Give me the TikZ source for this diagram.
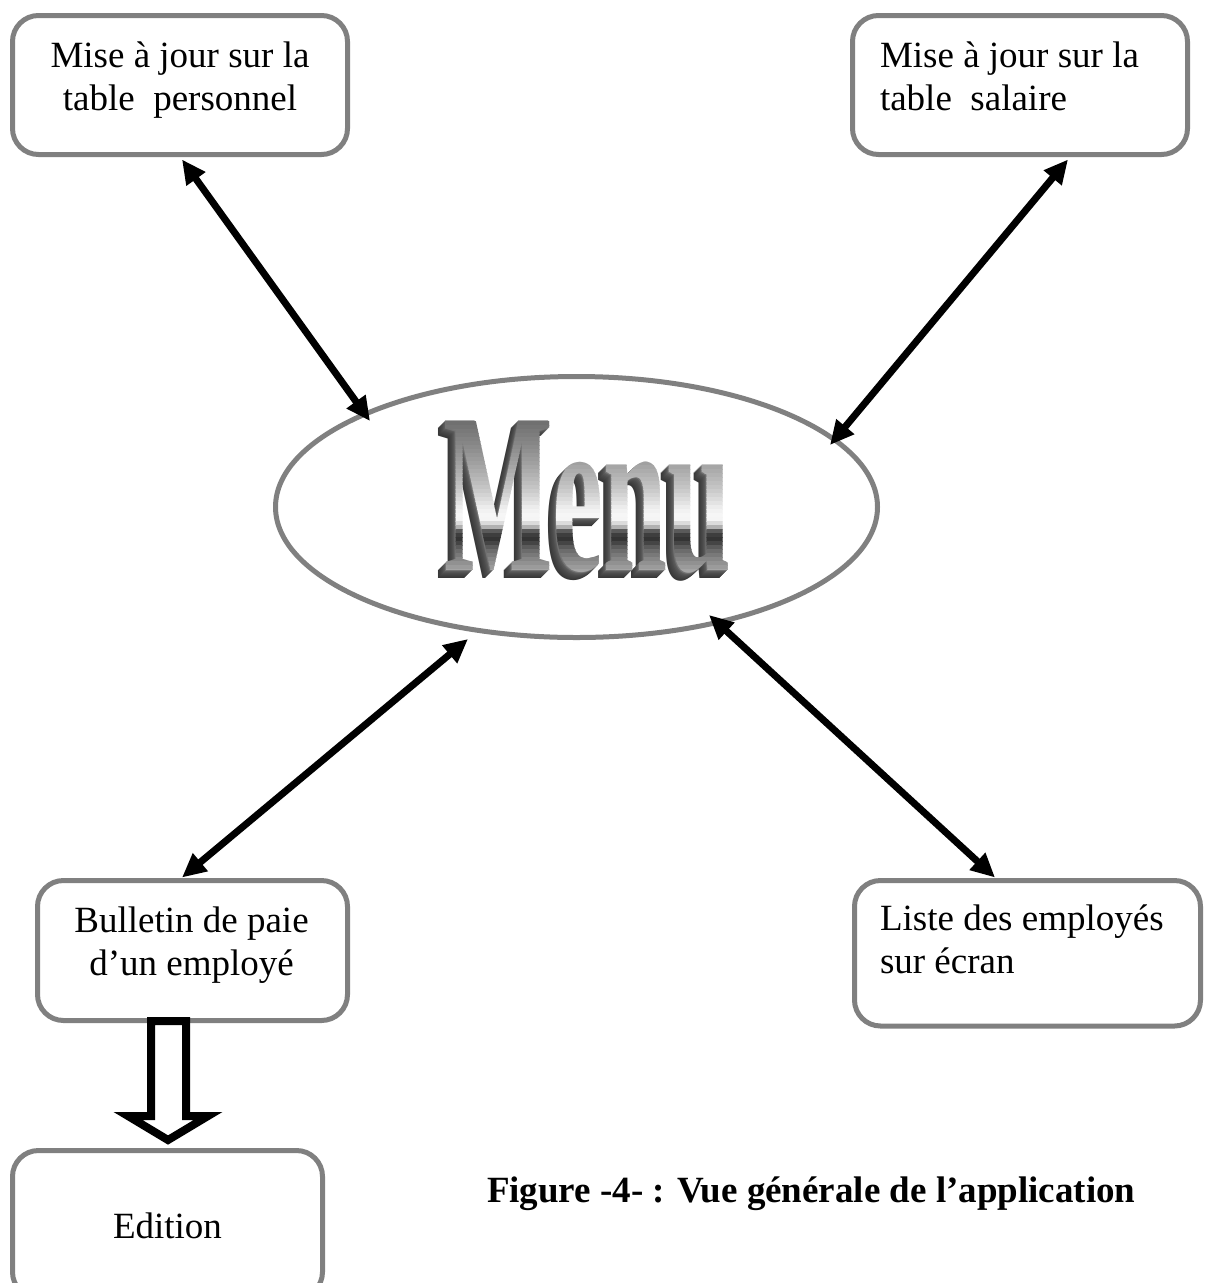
\documentclass[tikz,border=0pt]{standalone}
\usepackage{fontspec}
\setmainfont{Liberation Serif}
\usepackage{graphicx}
\usetikzlibrary{arrows.meta,calc,shapes.geometric}
\definecolor{boxgray}{RGB}{128,128,128}
\tikzset{
  box/.style={draw=boxgray, line width=5pt, rounded corners=26pt, inner sep=0pt, outer sep=0pt},
  lbl/.style={inner sep=0pt, outer sep=0pt, font=\fontsize{37}{43}\selectfont},
  captxt/.style={inner sep=0pt, outer sep=0pt, font=\fontsize{37}{43}\selectfont\bfseries},
  dbl/.style={line width=7pt, {Triangle[length=24pt,width=22pt]}-{Triangle[length=24pt,width=22pt]}},
  blockarrow/.style={draw=black, line width=8pt, fill=white, line join=miter},
  menuface/.style={inner sep=0pt, outer sep=0pt, font=\fontsize{115}{120}\selectfont\bfseries},
}
\begin{document}
\begin{tikzpicture}[x=1pt,y=-1pt]
\useasboundingbox (0,0) rectangle (1205,1283);
\clip (0,0) rectangle (1205,1283);
\fill[white] (0,0) rectangle (1205,1283);

% central ellipse
\node[draw=boxgray, line width=5pt, ellipse, minimum width=602pt, minimum height=261pt, inner sep=0pt, outer sep=0pt] (menu) at (576.5,507) {};

% WordArt "Menu": extrusion
\foreach \k/\gg in {8/22,7/24,6/26,5/28,4/30,3/33,2/36,1/45} {
  \node[menuface, text=white!\gg!black] (menuext\k) at ({588-\k},{497+\k}) {\scalebox{1}[2]{Menu}};
}
% WordArt "Menu": chrome front face (horizontal bands)
\foreach \g [count=\i from 0, evaluate=\g as \p using \g/2.55] in
  {112,116,121,125,130,134,139,144,150,155,160,166,172,178,184,190,196,203,211,219,227,236,242,246,245,219,177,90,62,52,69,91,108,121,134,145,155,165} {
  \begin{scope}
    \clip (400,{421+4*\i}) rectangle (790,{425.6+4*\i});
    \node[menuface, text=white!\p!black] (menuband\i) at (588,497) {\scalebox{1}[2]{Menu}};
  \end{scope}
}

% boxes
\node[box, minimum width=335pt, minimum height=139pt] (tl) at (180,85) {};
\node[box, minimum width=335pt, minimum height=139pt] (tr) at (1020,85) {};
\node[box, minimum width=310pt, minimum height=140pt] (bl) at (192.5,950.5) {};
\node[box, minimum width=346pt, minimum height=145.5pt] (br) at (1027.5,953.25) {};
\node[box, minimum width=310pt, minimum height=147.5pt] (ed) at (167.5,1224.25) {};

% texts
\node[lbl, anchor=base] (tltxt) at (180,67) {\begin{tabular}[t]{@{}c@{}}Mise à jour sur la\\table\ \ personnel\end{tabular}};
\node[lbl, anchor=base west] (trtxt) at (880,67) {\begin{tabular}[t]{@{}l@{}}Mise à jour sur la\\table\ \ salaire\end{tabular}};
\node[lbl, anchor=base] (bltxt) at (191.5,932) {\begin{tabular}[t]{@{}c@{}}Bulletin de paie\\d’un employé\end{tabular}};
\node[lbl, anchor=base west] (brtxt) at (880,930) {\begin{tabular}[t]{@{}l@{}}Liste des employés\\sur écran\end{tabular}};
\node[lbl, anchor=base] (edtxt) at (167.5,1238) {Edition};
\node[captxt, anchor=base west] (caption) at (487,1202) {Figure -4- : Vue générale de l’application};

% double arrows
\draw[dbl] ($(tl.south)+(2,5)$) -- ($(menu.center)+(-206.5,-86)$);
\draw[dbl] ($(tr.south)+(48,5)$) -- ($(menu.center)+(253.5,-62)$);
\draw[dbl] ($(bl.north)+(-10.5,-3)$) -- ($(menu.center)+(-108.5,132)$);
\draw[dbl] ($(br.north)+(-32.5,-3)$) -- ($(menu.center)+(132.5,108)$);

% hollow block arrow from Bulletin to Edition
\draw[blockarrow] ($(bl.south)+(-41.5,0.5)$) -- ($(bl.south)+(-6.5,0.5)$) -- ($(bl.south)+(-6.5,95.5)$)
  -- ($(bl.south)+(15.5,95.5)$) -- ($(ed.north)+(0.5,-10.5)$) -- ($(bl.south)+(-64.5,95.5)$)
  -- ($(bl.south)+(-41.5,95.5)$) -- cycle;
\end{tikzpicture}
\end{document}
